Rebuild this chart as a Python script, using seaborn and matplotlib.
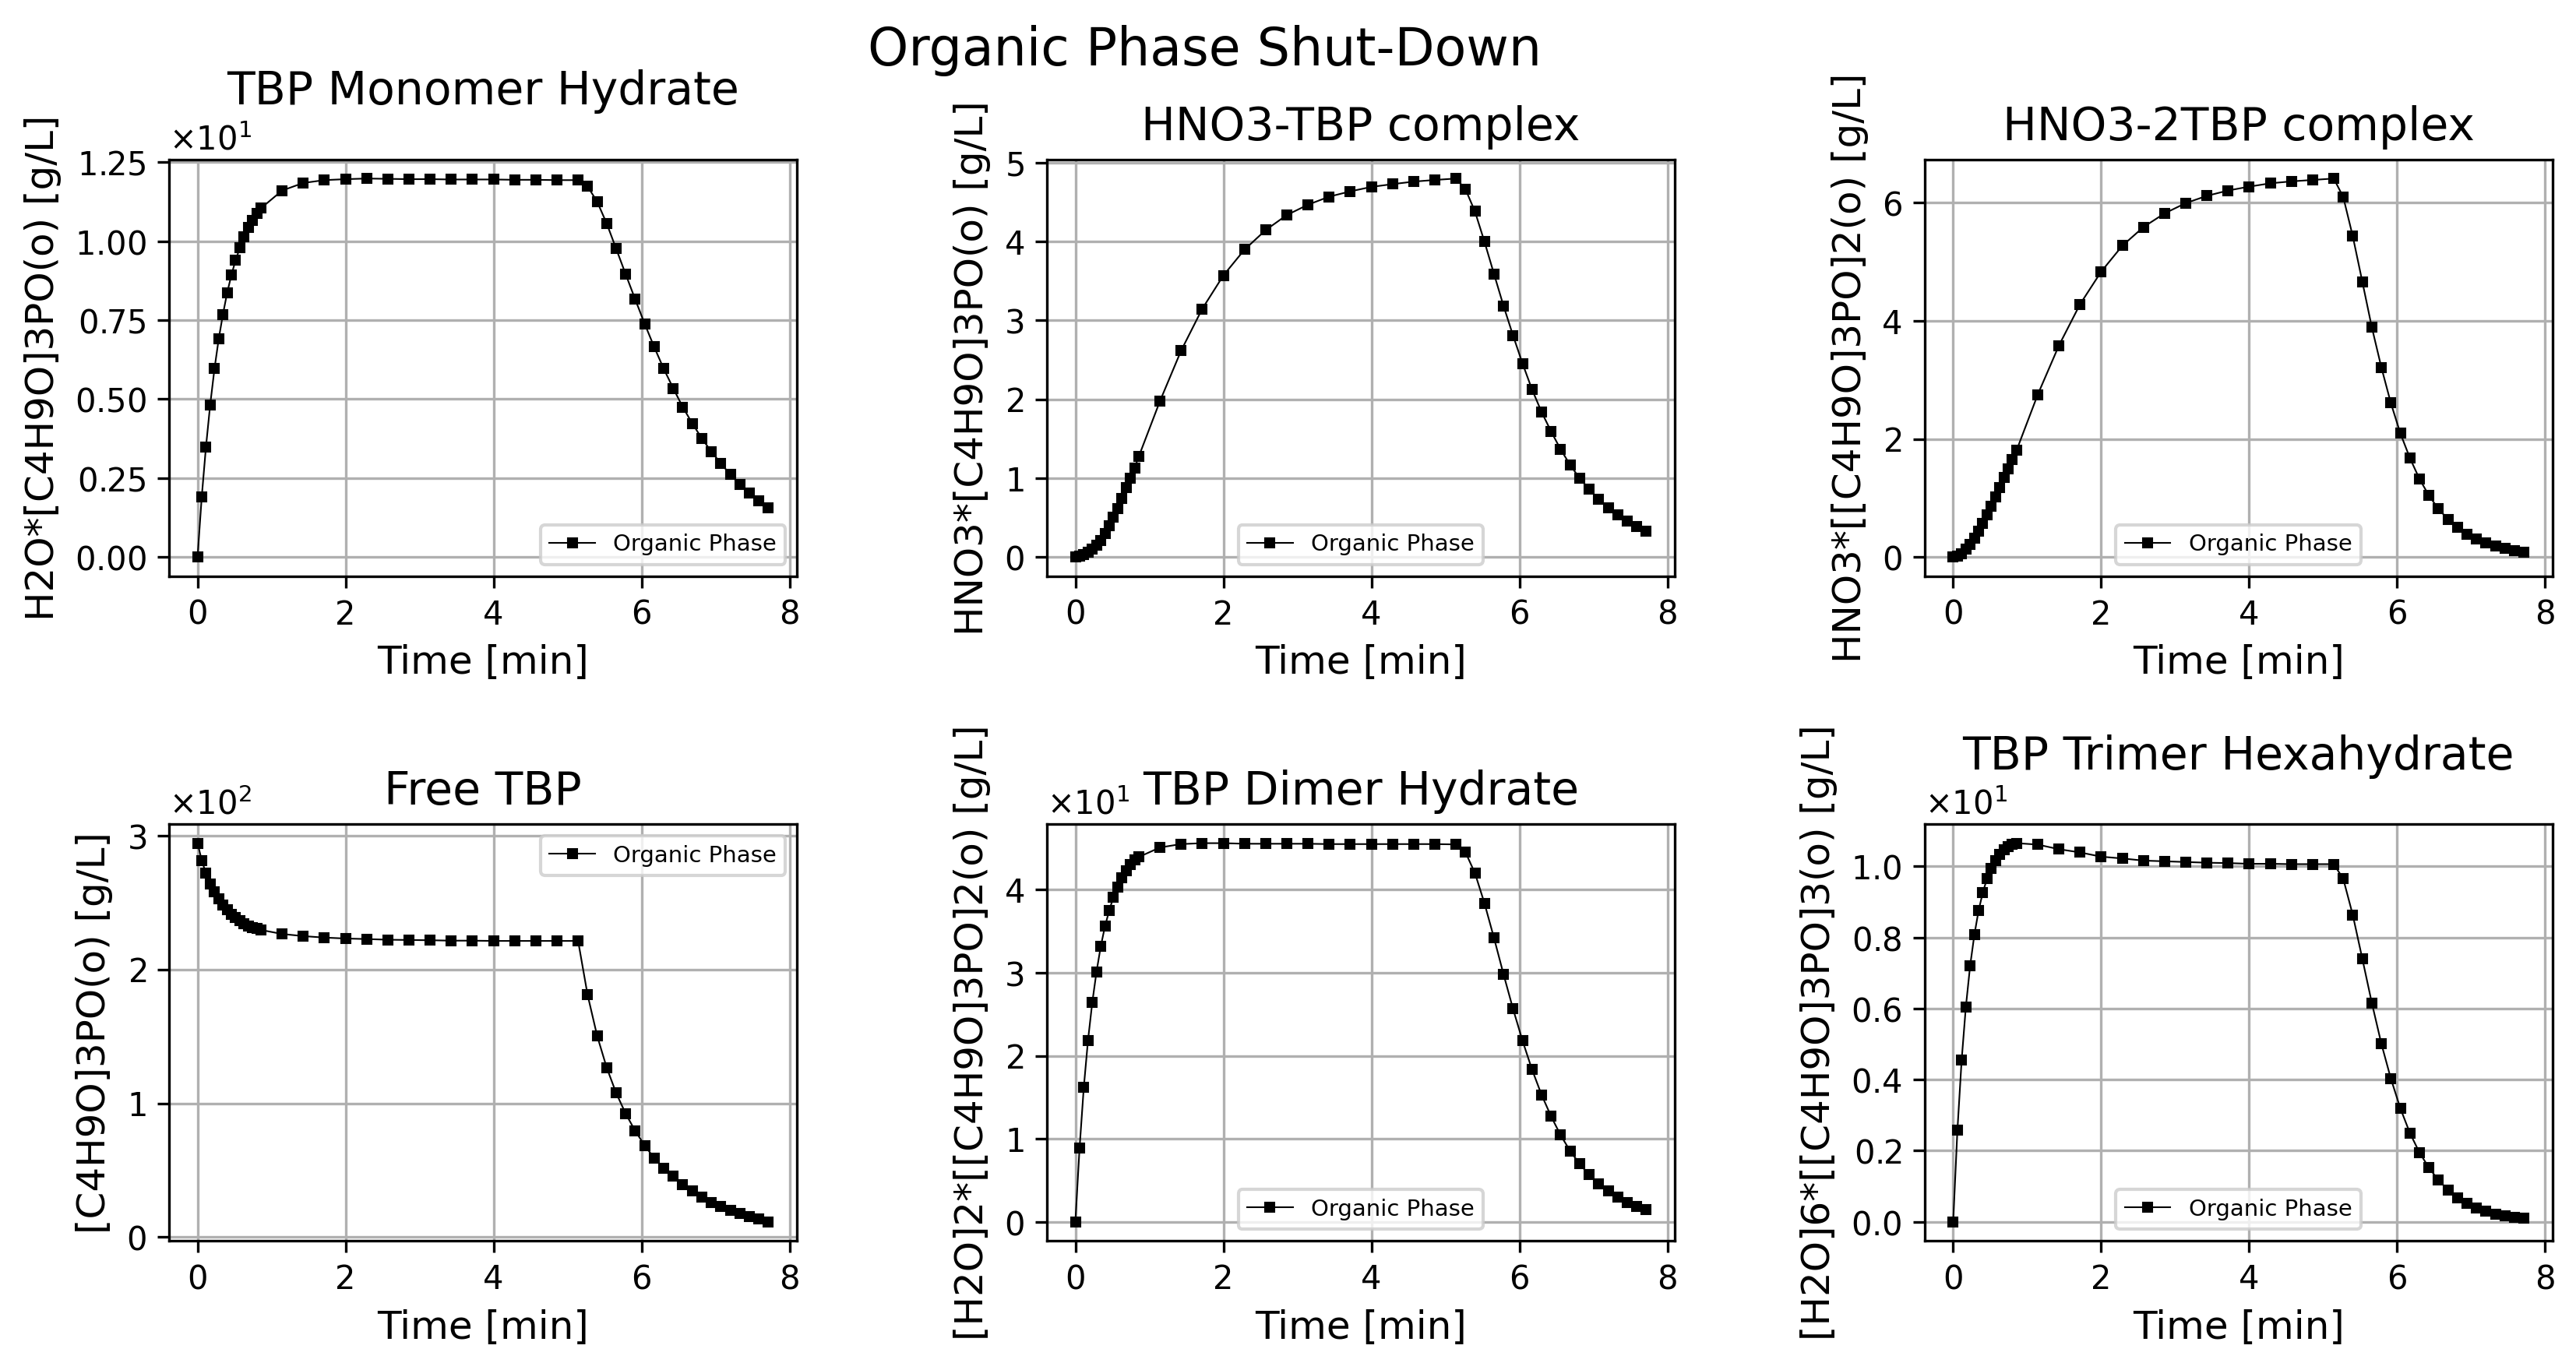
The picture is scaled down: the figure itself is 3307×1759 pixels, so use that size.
import numpy as np
import pandas as pd
import matplotlib
matplotlib.use("Agg")
import matplotlib.pyplot as plt
import seaborn as sns

# time grid [min]
time_min = [0.0, 0.057, 0.114, 0.171, 0.229, 0.286, 0.343, 0.4, 0.457, 0.514,
            0.571, 0.629, 0.686, 0.743, 0.8, 0.857,
            1.143, 1.429, 1.714, 2.0, 2.286, 2.571, 2.857, 3.143, 3.429, 3.714,
            4.0, 4.286, 4.571, 4.857, 5.143,
            5.271, 5.4, 5.529, 5.657, 5.786, 5.914, 6.043, 6.171, 6.3, 6.429,
            6.557, 6.686, 6.814, 6.943, 7.071, 7.2, 7.329, 7.457, 7.586, 7.714]

# concentrations [g/L]
monomer_hydrate = [0.0, 1.91, 3.49, 4.82, 5.96, 6.90, 7.68, 8.36, 8.92, 9.39,
                   9.78, 10.14, 10.43, 10.66, 10.88, 11.04,
                   11.60, 11.84, 11.93, 11.96, 11.98, 11.97, 11.96, 11.96, 11.95, 11.95,
                   11.95, 11.94, 11.94, 11.93, 11.93,
                   11.73, 11.25, 10.56, 9.76, 8.95, 8.16, 7.38, 6.65, 5.96, 5.34,
                   4.75, 4.23, 3.76, 3.34, 2.97, 2.61, 2.30, 2.03, 1.79, 1.55]

hno3_tbp = [0.0, 0.01, 0.03, 0.06, 0.10, 0.15, 0.215, 0.30, 0.40, 0.505,
            0.62, 0.74, 0.88, 1.0, 1.13, 1.275,
            1.977, 2.617, 3.146, 3.57, 3.898, 4.145, 4.336, 4.467, 4.569, 4.636,
            4.693, 4.728, 4.760, 4.781, 4.799,
            4.665, 4.382, 3.997, 3.591, 3.185, 2.811, 2.454, 2.126, 1.840, 1.593,
            1.367, 1.169, 1.0, 0.862, 0.734, 0.629, 0.533, 0.456, 0.388, 0.328]

hno3_2tbp = [0.0, 0.02, 0.06, 0.13, 0.22, 0.32, 0.44, 0.57, 0.71, 0.86,
             1.02, 1.18, 1.35, 1.50, 1.65, 1.81,
             2.753, 3.584, 4.282, 4.835, 5.274, 5.590, 5.822, 5.996, 6.119, 6.209,
             6.275, 6.331, 6.364, 6.388, 6.412,
             6.100, 5.434, 4.665, 3.895, 3.215, 2.611, 2.096, 1.681, 1.327, 1.043,
             0.817, 0.642, 0.500, 0.392, 0.302, 0.241, 0.189, 0.146, 0.113, 0.080]

free_tbp = [294.5, 281.7, 271.9, 264.1, 258.0, 252.9, 248.4, 244.7, 241.5, 238.8,
            236.5, 234.4, 232.8, 231.4, 230.5, 229.6,
            226.6, 225.0, 223.9, 223.2, 222.8, 222.3, 222.1, 221.9, 221.6, 221.6,
            221.4, 221.4, 221.4, 221.4, 221.4,
            181.1, 150.5, 126.7, 107.7, 92.2, 79.4, 68.4, 59.0, 51.5, 45.3,
            39.3, 34.3, 29.7, 25.8, 22.9, 19.9, 17.4, 15.5, 13.7, 11.4]

dimer_hydrate = [0.0, 8.91, 16.20, 21.88, 26.45, 30.13, 33.17, 35.59, 37.48, 39.11,
                 40.37, 41.45, 42.31, 43.05, 43.61, 43.95,
                 45.10, 45.51, 45.62, 45.62, 45.55, 45.55, 45.55, 45.55, 45.51, 45.51,
                 45.51, 45.51, 45.51, 45.51, 45.47,
                 44.54, 42.01, 38.37, 34.21, 29.83, 25.67, 21.81, 18.35, 15.30, 12.70,
                 10.44, 8.54, 6.98, 5.65, 4.57, 3.68, 2.93, 2.30, 1.86, 1.45]

trimer_hexahydrate = [0.0, 2.57, 4.54, 6.04, 7.20, 8.07, 8.75, 9.26, 9.65, 9.95,
                      10.16, 10.34, 10.47, 10.55, 10.61, 10.65,
                      10.61, 10.48, 10.39, 10.27, 10.22, 10.16, 10.14, 10.12, 10.10, 10.09,
                      10.07, 10.07, 10.06, 10.06, 10.06,
                      9.65, 8.63, 7.40, 6.16, 5.01, 4.03, 3.19, 2.50, 1.95, 1.52,
                      1.17, 0.90, 0.68, 0.52, 0.39, 0.29, 0.22, 0.16, 0.12, 0.10]

titles = ["TBP Monomer Hydrate", "HNO3-TBP complex", "HNO3-2TBP complex",
          "Free TBP", "TBP Dimer Hydrate", "TBP Trimer Hexahydrate"]
ylabels = ["H2O*[C4H9O]3PO(o) [g/L]", "HNO3*[C4H9O]3PO(o) [g/L]",
           "HNO3*[[C4H9O]3PO]2(o) [g/L]", "[C4H9O]3PO(o) [g/L]",
           "[H2O]2*[[C4H9O]3PO]2(o) [g/L]", "[H2O]6*[[C4H9O]3PO]3(o) [g/L]"]
legend_locs = ["lower right", "lower center", "lower center",
               "upper right", "lower center", "lower center"]
series = [monomer_hydrate, hno3_tbp, hno3_2tbp, free_tbp, dimer_hydrate, trimer_hexahydrate]

fig, axes = plt.subplots(2, 3, figsize=(3307 / 300, 1759 / 300), dpi=300)
fig.subplots_adjust(left=0.0656, right=0.9909, bottom=0.0944, top=0.8835,
                    wspace=0.398, hspace=0.596)

for ax, y, title, ylab, loc in zip(axes.flat, series, titles, ylabels, legend_locs):
    df = pd.DataFrame({"t": time_min, "c": y})
    sns.lineplot(data=df, x="t", y="c", ax=ax, color="k", linewidth=0.5,
                 marker="s", markersize=3, markeredgecolor="k", markeredgewidth=0.5,
                 label="Organic Phase")
    ax.set_title(title, fontsize=14)
    ax.set_xlabel("Time [min]", fontsize=12)
    ax.set_ylabel(ylab, fontsize=12)
    ax.tick_params(labelsize=10)
    ax.ticklabel_format(axis="y", style="sci", scilimits=(0, 0), useMathText=True)
    ax.yaxis.get_offset_text().set_fontsize(10)
    ax.grid(True)
    ax.legend(loc=loc, fontsize=7)

fig.suptitle("Organic Phase Shut-Down", fontsize=16, x=0.4675, y=0.982)
fig.savefig("out.png", dpi=300)
